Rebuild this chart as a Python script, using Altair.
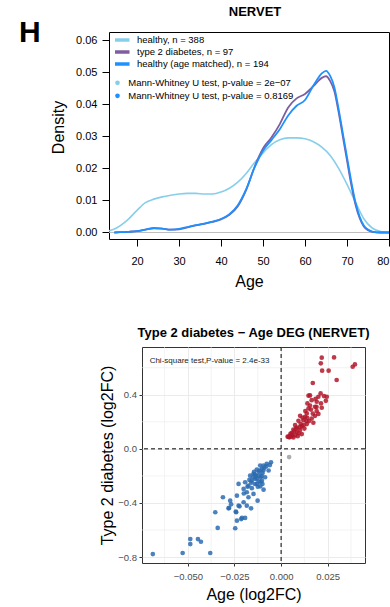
import altair as alt
import pandas as pd

FONT = "Liberation Sans"

# ---------------- top panel: age densities ----------------
series_names = ["healthy, n = 388", "type 2 diabetes, n = 97", "healthy (age matched), n = 194"]
series_colors = ["#87CEEB", "#7E5E9E", "#1E90FF"]

healthy_age = [13.3, 15, 17.5, 20, 22, 24, 26, 28, 30, 32, 34, 36, 38, 40, 42, 44, 46, 48, 50,
               52, 54, 56, 58, 60, 62, 64, 66, 68, 70, 72, 74, 76, 78, 80, 82]
healthy_density = [0.0005, 0.0013, 0.0036, 0.0069, 0.0093, 0.0104, 0.0111, 0.0116, 0.0120, 0.0122,
                   0.0122, 0.0120, 0.0120, 0.0126, 0.0138, 0.0157, 0.0184, 0.0218, 0.0248,
                   0.0274, 0.0289, 0.0295, 0.0295, 0.0292, 0.0283, 0.0266, 0.0240, 0.0200, 0.0150,
                   0.0095, 0.0043, 0.0014, 0.0003, 0.00005, 0.0]

t2d_age = [14.6, 16, 18, 20, 22, 24, 26, 28, 30, 32, 34, 36, 38, 40, 42, 44, 46, 48, 50, 52, 54,
           56, 58, 60, 62, 64, 65, 66, 67, 68, 69, 70, 71, 72, 73, 74, 75, 76, 78, 80]
t2d_density = [0.0, 0.0001, 0.0002, 0.0004, 0.0009, 0.0013, 0.0012, 0.0009, 0.0010, 0.0016, 0.0022,
               0.0027, 0.0033, 0.0041, 0.0055, 0.0082, 0.0133, 0.0205, 0.0262, 0.0296, 0.0338,
               0.0390, 0.0418, 0.0432, 0.0456, 0.0482, 0.0487, 0.0472, 0.0440, 0.0375, 0.0300,
               0.0225, 0.0150, 0.0088, 0.0045, 0.0019, 0.0007, 0.0002, 0.0, 0.0]

matched_age = [14.6, 16, 18, 20, 22, 24, 26, 28, 30, 32, 34, 36, 38, 40, 42, 44, 46, 48, 50, 52, 54,
               56, 58, 60, 62, 64, 65, 66, 67, 68, 69, 70, 71, 72, 73, 74, 75, 76, 78, 80]
matched_density = [0.0, 0.0001, 0.0002, 0.0004, 0.0009, 0.0014, 0.0012, 0.0009, 0.0011, 0.0017, 0.0023,
                   0.0028, 0.0034, 0.0042, 0.0057, 0.0085, 0.0135, 0.0203, 0.0255, 0.0288, 0.0322,
                   0.0365, 0.0395, 0.0413, 0.0458, 0.0496, 0.0504, 0.0488, 0.0452, 0.0385, 0.0310,
                   0.0235, 0.0160, 0.0095, 0.0050, 0.0022, 0.0009, 0.0003, 0.0, 0.0]

test_labels = ["Mann-Whitney U test, p-value = 2e\u221207", "Mann-Whitney U test, p-value = 0.8169"]
test_colors = ["#87CEEB", "#1E90FF"]

age_ticks = [20, 30, 40, 50, 60, 70, 80]
density_ticks = [0.0, 0.01, 0.02, 0.03, 0.04, 0.05, 0.06]

top_title = ["NERVET"]
panel_letter = ["H"]

# ---------------- bottom panel: DEG scatter ----------------
up_x = [0.0218, 0.0284, 0.0213, 0.0220, 0.0255, 0.0384, 0.0396, 0.0298, 0.0170, 0.0212, 0.0147, 0.0245,
        0.0200, 0.0164, 0.0191, 0.0141, 0.0214, 0.0182, 0.0218, 0.0147, 0.0191, 0.0138, 0.0182, 0.0102,
        0.0129, 0.0164, 0.0120, 0.0093, 0.0173, 0.0138, 0.0075, 0.0111, 0.0084, 0.0125, 0.0066, 0.0102,
        0.0084, 0.0057, 0.0111, 0.0075, 0.0048, 0.0066, 0.0040, 0.0089, 0.0060, 0.0095, 0.0120, 0.0150,
        0.0130, 0.0170, 0.0155, 0.0105, 0.0070, 0.0050, 0.0080, 0.0140, 0.0190, 0.0230, 0.0185, 0.0115,
        0.0100, 0.0160, 0.0135, 0.0045, 0.0055, 0.0035, 0.0240, 0.0155, 0.0200]
up_y = [0.674, 0.676, 0.632, 0.578, 0.578, 0.607, 0.624, 0.509, 0.487, 0.410, 0.393, 0.385,
        0.385, 0.360, 0.348, 0.336, 0.336, 0.311, 0.304, 0.299, 0.279, 0.262, 0.244, 0.244,
        0.237, 0.224, 0.212, 0.207, 0.193, 0.183, 0.176, 0.168, 0.158, 0.150, 0.143, 0.139,
        0.126, 0.119, 0.109, 0.101, 0.094, 0.084, 0.089, 0.094, 0.100, 0.115, 0.175, 0.205,
        0.280, 0.260, 0.320, 0.185, 0.130, 0.110, 0.150, 0.230, 0.310, 0.390, 0.370, 0.230,
        0.160, 0.290, 0.205, 0.085, 0.092, 0.090, 0.355, 0.395, 0.258]

down_x = [-0.0054, -0.0077, -0.0094, -0.0112, -0.0067, -0.0103, -0.0130, -0.0148, -0.0166, -0.0121,
          -0.0086, -0.0139, -0.0103, -0.0157, -0.0193, -0.0228, -0.0130, -0.0175, -0.0112, -0.0157,
          -0.0201, -0.0094, -0.0184, -0.0148, -0.0237, -0.0175, -0.0273, -0.0126, -0.0201, -0.0312,
          -0.0228, -0.0282, -0.0184, -0.0243, -0.0161, -0.0353, -0.0210, -0.0193, -0.0688, -0.0528,
          -0.0380, -0.0487, -0.0487, -0.0446, -0.0430, -0.0340, -0.0268, -0.0279, -0.0223, -0.0241,
          -0.0237, -0.0246, -0.0214, -0.0120, -0.0140, -0.0100, -0.0110, -0.0130, -0.0090, -0.0080,
          -0.0150, -0.0120, -0.0140, -0.0100, -0.0160, -0.0115, -0.0135, -0.0105, -0.0170, -0.0125,
          -0.0095, -0.0060, -0.0145, -0.0180, -0.0200, -0.0110]
down_y = [-0.099, -0.111, -0.123, -0.123, -0.160, -0.148, -0.153, -0.185, -0.198, -0.198,
          -0.210, -0.222, -0.235, -0.235, -0.247, -0.259, -0.259, -0.272, -0.277, -0.291,
          -0.296, -0.302, -0.321, -0.333, -0.346, -0.358, -0.383, -0.383, -0.395, -0.358,
          -0.420, -0.440, -0.420, -0.464, -0.440, -0.469, -0.511, -0.511, -0.778, -0.770,
          -0.770, -0.667, -0.704, -0.667, -0.687, -0.585, -0.410, -0.437, -0.425, -0.469,
          -0.531, -0.587, -0.519, -0.170, -0.190, -0.180, -0.210, -0.220, -0.140, -0.130,
          -0.210, -0.240, -0.260, -0.260, -0.250, -0.160, -0.200, -0.200, -0.230, -0.280,
          -0.160, -0.120, -0.170, -0.280, -0.330, -0.245]

ns_x = [0.0043]
ns_y = [-0.061]

group_names = ["up", "down", "ns"]
group_colors = ["#B2182B", "#2C6BB0", "#9E9E9E"]

x_major = [-0.05, -0.025, 0.0, 0.025]
x_minor = [-0.0625, -0.0375, -0.0125, 0.0125, 0.0375]
y_major = [-0.8, -0.4, 0.0, 0.4]
y_minor = [-0.6, -0.2, 0.2, 0.6]

annotation_text = ["Chi-square test,P-value = 2.4e-33"]
annotation_x = [-0.0705]
annotation_y = [0.635]

# ================= build top chart =================
dens_df = pd.concat([
    pd.DataFrame({"series": series_names[0], "age": healthy_age, "density": healthy_density}),
    pd.DataFrame({"series": series_names[1], "age": t2d_age, "density": t2d_density}),
    pd.DataFrame({"series": series_names[2], "age": matched_age, "density": matched_density}),
], ignore_index=True)

W1, H1 = 280, 207
xs1 = alt.Scale(domain=[13.33, 80.0], nice=False, zero=False)
ys1 = alt.Scale(domain=[-0.00203, 0.0625], nice=False, zero=False)
xax1 = alt.Axis(values=age_ticks, title="Age", grid=False, domain=False, tickSize=7,
                tickColor="black", tickWidth=1, labelFontSize=11, labelColor="black",
                labelPadding=9.5, labelFont=FONT, titleFont=FONT, titleFontSize=16,
                titleFontWeight="normal", titleColor="black", titlePadding=7, labelFlush=True)
yax1 = alt.Axis(values=density_ticks, format=".2f", title="Density", grid=False, domain=False,
                tickSize=7, tickColor="black", tickWidth=1, labelFontSize=11, labelColor="black",
                labelPadding=5, labelFont=FONT, titleFont=FONT, titleFontSize=16,
                titleFontWeight="normal", titleColor="black", titleAngle=270, titleAlign="center",
                titleBaseline="alphabetic", titleX=-46, titleY=95)

color_scale = alt.Scale(domain=series_names, range=series_colors)
leg1 = alt.Legend(title=None, orient="none", legendX=6, legendY=3, symbolType="M-1.5,0H1.5",
                  symbolSize=100, symbolStrokeWidth=3.5, labelFontSize=9.5, labelFont=FONT,
                  labelColor="black", labelOffset=8, rowPadding=2, padding=0, labelLimit=300,
                  clipHeight=10)

zero_df = pd.DataFrame({"density": [0.0]})
zero_rule = alt.Chart(zero_df).mark_rule(color="#BEBEBE", strokeWidth=1).encode(
    y=alt.Y("density:Q", scale=ys1, axis=yax1))


def line_layer(name, width):
    return alt.Chart(dens_df).transform_filter(alt.datum.series == name).mark_line(
        strokeWidth=width, interpolate="monotone", clip=True).encode(
        x=alt.X("age:Q", scale=xs1, axis=xax1),
        y=alt.Y("density:Q", scale=ys1, axis=yax1),
        color=alt.Color("series:N", scale=color_scale, legend=leg1))


fill_df = pd.DataFrame({"test": test_labels, "age": [50, 50], "density": [0.03, 0.03]})
leg2 = alt.Legend(title=None, orient="none", legendX=3.75, legendY=46, symbolType="circle",
                  symbolSize=22, symbolStrokeWidth=0, labelFontSize=9.5, labelFont=FONT,
                  labelColor="black", labelOffset=6, rowPadding=2, padding=0, labelLimit=300,
                  clipHeight=9.7)
test_pts = alt.Chart(fill_df).mark_point(filled=True, opacity=0).encode(
    x=alt.X("age:Q", scale=xs1, axis=xax1),
    y=alt.Y("density:Q", scale=ys1, axis=yax1),
    fill=alt.Fill("test:N", scale=alt.Scale(domain=test_labels, range=test_colors), legend=leg2))

h_df = pd.DataFrame({"label": panel_letter})
h_mark = alt.Chart(h_df).mark_text(fontSize=30, fontWeight="bold", align="left",
                                   baseline="alphabetic", font=FONT, color="black").encode(
    text="label:N", x=alt.value(-90), y=alt.value(10))

t_df = pd.DataFrame({"label": top_title})
t_mark = alt.Chart(t_df).mark_text(fontSize=13, fontWeight="bold", align="center",
                                   baseline="alphabetic", font=FONT, color="black").encode(
    text="label:N", x=alt.value(W1 / 2 + 6), y=alt.value(-16))

top = alt.layer(zero_rule, line_layer(series_names[0], 1.6), line_layer(series_names[1], 1.8),
                line_layer(series_names[2], 1.8), test_pts, h_mark, t_mark).properties(
    width=W1, height=H1,
    view=alt.ViewBackground(stroke="black", strokeWidth=1))

# ================= build bottom chart =================
scatter_df = pd.concat([
    pd.DataFrame({"x": up_x, "y": up_y, "group": "up"}),
    pd.DataFrame({"x": down_x, "y": down_y, "group": "down"}),
    pd.DataFrame({"x": ns_x, "y": ns_y, "group": "ns"}),
], ignore_index=True)

W2, H2 = 223, 216
sx = alt.Scale(domain=[-0.0746, 0.045], nice=False, zero=False)
sy = alt.Scale(domain=[-0.844, 0.753], nice=False, zero=False)
xax2 = alt.Axis(values=x_major, format=".3f", title="Age (log2FC)", grid=True, gridColor="#EBEBEB",
                gridWidth=1, domain=False, tickSize=3, tickColor="#333333", labelFontSize=9.5,
                labelColor="#4D4D4D", labelPadding=5, labelFont=FONT, titleFont=FONT,
                titleFontSize=16, titleFontWeight="normal", titleColor="black", titlePadding=5.5,
                labelFlush=False)
yax2 = alt.Axis(values=y_major, format=".1f", title="Type 2 diabetes (log2FC)", grid=True,
                gridColor="#EBEBEB", gridWidth=1, domain=False, tickSize=3, tickColor="#333333",
                labelFontSize=9.5, labelColor="#4D4D4D", labelPadding=2.5, labelFont=FONT,
                titleFont=FONT, titleFontSize=16, titleFontWeight="normal", titleColor="black",
                titlePadding=2)

minor_x_df = pd.DataFrame({"x": x_minor})
minor_y_df = pd.DataFrame({"y": y_minor})
minor_v = alt.Chart(minor_x_df).mark_rule(color="#EBEBEB", strokeWidth=0.6).encode(
    x=alt.X("x:Q", scale=sx, axis=xax2))
minor_h = alt.Chart(minor_y_df).mark_rule(color="#EBEBEB", strokeWidth=0.6).encode(
    y=alt.Y("y:Q", scale=sy, axis=yax2))

origin_df = pd.DataFrame({"x": [0.0], "y": [0.0]})
vline = alt.Chart(origin_df).mark_rule(color="black", strokeDash=[4, 3], strokeWidth=1).encode(
    x=alt.X("x:Q", scale=sx, axis=xax2))
hline = alt.Chart(origin_df).mark_rule(color="black", strokeDash=[4, 3], strokeWidth=1).encode(
    y=alt.Y("y:Q", scale=sy, axis=yax2))

points = alt.Chart(scatter_df).mark_circle(size=22, opacity=0.85).encode(
    x=alt.X("x:Q", scale=sx, axis=xax2),
    y=alt.Y("y:Q", scale=sy, axis=yax2),
    color=alt.Color("group:N", scale=alt.Scale(domain=group_names, range=group_colors), legend=None))

ann_df = pd.DataFrame({"x": annotation_x, "y": annotation_y, "label": annotation_text})
ann = alt.Chart(ann_df).mark_text(align="left", baseline="alphabetic", fontSize=8, color="#222222",
                                  font=FONT).encode(
    x=alt.X("x:Q", scale=sx, axis=xax2),
    y=alt.Y("y:Q", scale=sy, axis=yax2),
    text="label:N")

scatter = alt.layer(minor_v, minor_h, vline, hline, points, ann).properties(
    width=W2, height=H2,
    view=alt.ViewBackground(stroke="#333333", strokeWidth=1),
    title=alt.TitleParams("Type 2 diabetes \u2212 Age DEG (NERVET)", fontSize=13, fontWeight="bold",
                          font=FONT, anchor="middle", frame="group", baseline="alphabetic",
                          offset=-3, color="black"))

spacer_df = pd.DataFrame({"a": [0]})
spacer = alt.Chart(spacer_df).mark_rule(opacity=0).encode(
    x=alt.value(0), x2=alt.value(1), y=alt.value(0)).properties(
    width=1, height=10, view=alt.ViewBackground(stroke="transparent"))

row2 = alt.hconcat(spacer, scatter, spacing=-12)

chart = alt.concat(top, row2, columns=1, spacing=36).resolve_scale(
    color="independent", fill="independent").resolve_legend(
    color="independent", fill="independent").properties(
    padding={"left": 18, "top": 5, "right": 0, "bottom": 0}
).configure(font=FONT)

chart.save("out.html", embed_options={"renderer": "svg", "actions": False})
